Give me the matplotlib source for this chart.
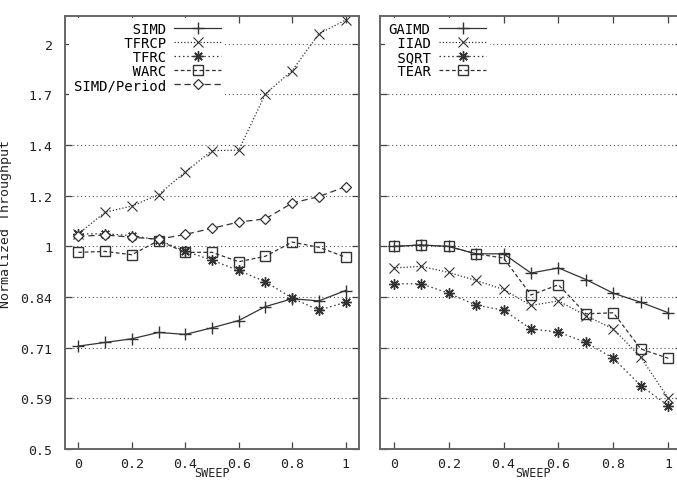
import matplotlib
matplotlib.use("Agg")
import matplotlib.pyplot as plt
import numpy as np

x = [0.0, 0.1, 0.2, 0.3, 0.4, 0.5, 0.6, 0.7, 0.8, 0.9, 1.0]

# Left panel
simd = [0.711, 0.72, 0.729, 0.745, 0.74, 0.757, 0.776, 0.814, 0.836, 0.83, 0.86]
tfrcp = [1.044, 1.124, 1.148, 1.194, 1.29, 1.388, 1.39, 1.686, 1.825, 2.07, 2.17]
tfrc = [1.044, 1.044, 1.038, 1.022, 0.984, 0.954, 0.921, 0.886, 0.838, 0.804, 0.826]
warc = [0.98, 0.983, 0.972, 1.02, 0.98, 0.98, 0.949, 0.967, 1.015, 0.997, 0.964]
simd_period = [1.035, 1.04, 1.032, 1.025, 1.042, 1.064, 1.087, 1.099, 1.16, 1.186, 1.227]

# Right panel
gaimd = [1.0, 1.005, 1.0, 0.975, 0.975, 0.913, 0.929, 0.893, 0.852, 0.826, 0.797]
iiad = [0.929, 0.934, 0.915, 0.89, 0.863, 0.817, 0.83, 0.789, 0.754, 0.684, 0.595]
sqrt_ = [0.88, 0.88, 0.852, 0.818, 0.804, 0.754, 0.746, 0.72, 0.682, 0.621, 0.58]
tear = [1.0, 1.005, 1.0, 0.975, 0.961, 0.847, 0.877, 0.794, 0.797, 0.704, 0.682]

ytick_vals = [2 ** (k / 4) for k in range(-4, 5)]
ytick_labels = ["0.5", "0.59", "0.71", "0.84", "1", "1.2", "1.4", "1.7", "2"]
xtick_vals = [0, 0.2, 0.4, 0.6, 0.8, 1]
xtick_labels = ["0", "0.2", "0.4", "0.6", "0.8", "1"]

left_names = ["SIMD", "TFRCP", "TFRC", "WARC", "SIMD/Period"]
right_names = ["GAIMD", "IIAD", "SQRT", "TEAR"]
xlabel_text = "SWEEP"
ylabel_text = "Normalized Throughput"

FONT = "DejaVu Sans Mono"
FS = 9.5
plt.rcParams['font.family'] = [FONT]
plt.rcParams['font.size'] = FS

LC = '#333333'
styles = {
    'solid': dict(ls='-', marker='+', ms=9, mew=1.0),
    'dotx': dict(ls=(0, (1, 1.6)), marker='x', ms=7.5, mew=0.8),
    'dotstar': dict(ls=(0, (1.2, 2.2)), marker=(8, 2, 0), ms=7.5, mew=1.0),
    'dashsq': dict(ls=(0, (3, 2)), marker='s', ms=7, mew=1.0, mfc='none'),
    'longdia': dict(ls=(0, (5, 3)), marker='D', ms=5, mew=0.9, mfc='white'),
}

fig = plt.figure(figsize=(6.77, 4.81), dpi=100)
W, H = 677, 481
def axrect(l, r, t, b):
    return [l / W, 1 - b / H, (r - l) / W, (b - t) / H]

ax1 = fig.add_axes(axrect(65, 359, 17, 450))
ax2 = fig.add_axes(axrect(380, 682, 17, 450))

def setup(ax, show_labels):
    ax.set_yscale('log')
    ax.set_ylim(0.5, 2.2)
    ax.set_xlim(-0.05, 1.05)
    ax.set_yticks(ytick_vals)
    ax.yaxis.set_minor_locator(matplotlib.ticker.NullLocator())
    if show_labels:
        ax.set_yticklabels(ytick_labels)
    else:
        ax.set_yticklabels([])
    ax.set_xticks(xtick_vals)
    ax.set_xticklabels(xtick_labels)
    ax.tick_params(direction='in', length=5, width=0.9, color='#444444',
                   top=True, right=True, labelsize=FS, pad=6, labelcolor='#222222')
    ax.tick_params(axis='y', pad=9)
    for s in ax.spines.values():
        s.set_color('#666666')
        s.set_linewidth(1.4)
    ax.grid(axis='y', ls=(0, (1, 2.5)), color='#555555', lw=0.8)
    ax.grid(axis='x', visible=False)

setup(ax1, True)
setup(ax2, False)

def plot(ax, y, name, st):
    kw = dict(styles[st])
    ax.plot(x, y, color=LC, lw=0.9, label=name, mec=LC, **kw)

plot(ax1, simd, left_names[0], 'solid')
plot(ax1, tfrcp, left_names[1], 'dotx')
plot(ax1, tfrc, left_names[2], 'dotstar')
plot(ax1, warc, left_names[3], 'dashsq')
plot(ax1, simd_period, left_names[4], 'longdia')

plot(ax2, gaimd, right_names[0], 'solid')
plot(ax2, iiad, right_names[1], 'dotx')
plot(ax2, sqrt_, right_names[2], 'dotstar')
plot(ax2, tear, right_names[3], 'dashsq')

def legend(ax, names, anchor):
    h, l = ax.get_legend_handles_labels()
    n = max(len(s) for s in names)
    l = [s.rjust(n) for s in l]
    leg = ax.legend(h, l, loc='upper left', bbox_to_anchor=anchor, markerfirst=False,
                    numpoints=1, handlelength=3.4, handletextpad=0.6,
                    labelspacing=0.0, borderpad=0.3, borderaxespad=0.0,
                    frameon=True, fancybox=False, edgecolor='none',
                    facecolor='white', framealpha=1.0, prop={'family': FONT, 'size': 10.0})
    return leg

legend(ax1, left_names, (0.015, 0.995))
legend(ax2, right_names, (0.015, 0.995))

fig.text(6 / W, 1 - 224 / H, ylabel_text, rotation=90,
         ha='center', va='center', fontsize=FS, color='#222222')
fig.text(212 / W, 1 / H, xlabel_text, ha='center', va='bottom', fontsize=8.5, color='#222222')
fig.text(533 / W, 1 / H, xlabel_text, ha='center', va='bottom', fontsize=8.5, color='#222222')

fig.savefig("out.png", dpi=100)
